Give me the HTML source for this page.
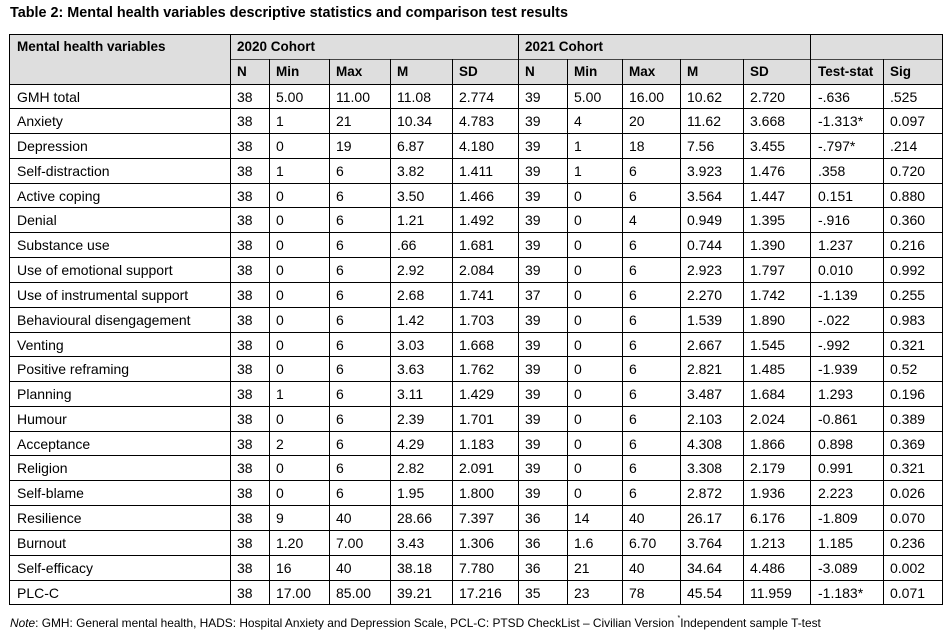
<!DOCTYPE html>
<html>
<head>
<meta charset="utf-8">
<style>
html,body{margin:0;padding:0;background:#fff;}
#w{position:relative;width:947px;height:641px;overflow:hidden;background:#fff;font-family:"Liberation Sans",Arial,sans-serif;color:#000;}
.title{position:absolute;left:10px;top:5px;font-size:14.4px;font-weight:bold;white-space:nowrap;line-height:normal;}
.note{position:absolute;left:10px;top:616px;font-size:11.9px;white-space:nowrap;line-height:normal;}
.note sup{font-size:7px;vertical-align:top;position:relative;top:-1px;}
.hbg{position:absolute;left:9px;top:34px;width:934px;height:50px;background:#dedede;}
.outer{position:absolute;left:9px;top:34px;width:934px;height:571px;border:1px solid #000;box-sizing:border-box;}
.vl{position:absolute;width:1px;background:#000;}
.hl{position:absolute;height:1px;background:#000;}
.r{position:absolute;left:9px;width:934px;display:flex;font-size:14px;white-space:nowrap;}
.r div{box-sizing:border-box;padding-left:7px;overflow:visible;}
.r div:first-child{padding-left:8px;}
.h{font-weight:bold;font-size:13.5px;}
.c0{width:221px}.c1{width:39px}.c2{width:60px}.c3{width:61px}.c4{width:62px}.c5{width:66px}
.c6{width:49px}.c7{width:55px}.c8{width:58px}.c9{width:63px}.c10{width:68px}.c11{width:72px}.c12{width:60px}
</style>
</head>
<body>
<div id="w">
<div class="title">Table 2: Mental health variables descriptive statistics and comparison test results</div>

<div class="hbg"></div>

<div class="hl" style="left:230px;top:59px;width:713px;background:#444;"></div>
<div class="hl" style="left:9px;top:84px;width:934px;"></div>
<div class="hl" style="left:9px;top:108px;width:934px;"></div>
<div class="hl" style="left:9px;top:133px;width:934px;"></div>
<div class="hl" style="left:9px;top:158px;width:934px;"></div>
<div class="hl" style="left:9px;top:183px;width:934px;"></div>
<div class="hl" style="left:9px;top:207px;width:934px;"></div>
<div class="hl" style="left:9px;top:232px;width:934px;"></div>
<div class="hl" style="left:9px;top:257px;width:934px;"></div>
<div class="hl" style="left:9px;top:282px;width:934px;"></div>
<div class="hl" style="left:9px;top:307px;width:934px;"></div>
<div class="hl" style="left:9px;top:332px;width:934px;"></div>
<div class="hl" style="left:9px;top:356px;width:934px;"></div>
<div class="hl" style="left:9px;top:381px;width:934px;"></div>
<div class="hl" style="left:9px;top:406px;width:934px;"></div>
<div class="hl" style="left:9px;top:431px;width:934px;"></div>
<div class="hl" style="left:9px;top:455px;width:934px;"></div>
<div class="hl" style="left:9px;top:480px;width:934px;"></div>
<div class="hl" style="left:9px;top:505px;width:934px;"></div>
<div class="hl" style="left:9px;top:530px;width:934px;"></div>
<div class="hl" style="left:9px;top:555px;width:934px;"></div>
<div class="hl" style="left:9px;top:580px;width:934px;"></div>

<div class="vl" style="left:230px;top:34px;height:570px;"></div>
<div class="vl" style="left:518px;top:34px;height:570px;"></div>
<div class="vl" style="left:810px;top:34px;height:570px;"></div>
<div class="vl" style="left:269px;top:59px;height:545px;"></div>
<div class="vl" style="left:329px;top:59px;height:545px;"></div>
<div class="vl" style="left:390px;top:59px;height:545px;"></div>
<div class="vl" style="left:452px;top:59px;height:545px;"></div>
<div class="vl" style="left:567px;top:59px;height:545px;"></div>
<div class="vl" style="left:622px;top:59px;height:545px;"></div>
<div class="vl" style="left:680px;top:59px;height:545px;"></div>
<div class="vl" style="left:743px;top:59px;height:545px;"></div>
<div class="vl" style="left:883px;top:59px;height:545px;"></div>

<div class="outer"></div>

<div class="r h" style="top:34px;height:25px;line-height:26px;">
<div style="width:221px">Mental health variables</div>
<div style="width:288px">2020 Cohort</div>
<div style="width:292px">2021 Cohort</div>
<div style="width:132px"></div>
</div>
<div class="r h" style="top:59px;height:25px;line-height:26px;">
<div class="c0"></div><div class="c1">N</div><div class="c2">Min</div><div class="c3">Max</div><div class="c4">M</div><div class="c5">SD</div>
<div class="c6">N</div><div class="c7">Min</div><div class="c8">Max</div><div class="c9">M</div><div class="c10">SD</div><div class="c11">Test-stat</div><div class="c12">Sig</div>
</div>

<div class="r" style="top:84px;height:25px;line-height:27px;"><div class="c0">GMH total</div><div class="c1">38</div><div class="c2">5.00</div><div class="c3">11.00</div><div class="c4">11.08</div><div class="c5">2.774</div><div class="c6">39</div><div class="c7">5.00</div><div class="c8">16.00</div><div class="c9">10.62</div><div class="c10">2.720</div><div class="c11">-.636</div><div class="c12">.525</div></div>
<div class="r" style="top:108px;height:25px;line-height:27px;"><div class="c0">Anxiety</div><div class="c1">38</div><div class="c2">1</div><div class="c3">21</div><div class="c4">10.34</div><div class="c5">4.783</div><div class="c6">39</div><div class="c7">4</div><div class="c8">20</div><div class="c9">11.62</div><div class="c10">3.668</div><div class="c11">-1.313*</div><div class="c12">0.097</div></div>
<div class="r" style="top:133px;height:25px;line-height:27px;"><div class="c0">Depression</div><div class="c1">38</div><div class="c2">0</div><div class="c3">19</div><div class="c4">6.87</div><div class="c5">4.180</div><div class="c6">39</div><div class="c7">1</div><div class="c8">18</div><div class="c9">7.56</div><div class="c10">3.455</div><div class="c11">-.797*</div><div class="c12">.214</div></div>
<div class="r" style="top:158px;height:25px;line-height:27px;"><div class="c0">Self-distraction</div><div class="c1">38</div><div class="c2">1</div><div class="c3">6</div><div class="c4">3.82</div><div class="c5">1.411</div><div class="c6">39</div><div class="c7">1</div><div class="c8">6</div><div class="c9">3.923</div><div class="c10">1.476</div><div class="c11">.358</div><div class="c12">0.720</div></div>
<div class="r" style="top:183px;height:25px;line-height:27px;"><div class="c0">Active coping</div><div class="c1">38</div><div class="c2">0</div><div class="c3">6</div><div class="c4">3.50</div><div class="c5">1.466</div><div class="c6">39</div><div class="c7">0</div><div class="c8">6</div><div class="c9">3.564</div><div class="c10">1.447</div><div class="c11">0.151</div><div class="c12">0.880</div></div>
<div class="r" style="top:207px;height:25px;line-height:27px;"><div class="c0">Denial</div><div class="c1">38</div><div class="c2">0</div><div class="c3">6</div><div class="c4">1.21</div><div class="c5">1.492</div><div class="c6">39</div><div class="c7">0</div><div class="c8">4</div><div class="c9">0.949</div><div class="c10">1.395</div><div class="c11">-.916</div><div class="c12">0.360</div></div>
<div class="r" style="top:232px;height:25px;line-height:27px;"><div class="c0">Substance use</div><div class="c1">38</div><div class="c2">0</div><div class="c3">6</div><div class="c4">.66</div><div class="c5">1.681</div><div class="c6">39</div><div class="c7">0</div><div class="c8">6</div><div class="c9">0.744</div><div class="c10">1.390</div><div class="c11">1.237</div><div class="c12">0.216</div></div>
<div class="r" style="top:257px;height:25px;line-height:27px;"><div class="c0">Use of emotional support</div><div class="c1">38</div><div class="c2">0</div><div class="c3">6</div><div class="c4">2.92</div><div class="c5">2.084</div><div class="c6">39</div><div class="c7">0</div><div class="c8">6</div><div class="c9">2.923</div><div class="c10">1.797</div><div class="c11">0.010</div><div class="c12">0.992</div></div>
<div class="r" style="top:282px;height:25px;line-height:27px;"><div class="c0">Use of instrumental support</div><div class="c1">38</div><div class="c2">0</div><div class="c3">6</div><div class="c4">2.68</div><div class="c5">1.741</div><div class="c6">37</div><div class="c7">0</div><div class="c8">6</div><div class="c9">2.270</div><div class="c10">1.742</div><div class="c11">-1.139</div><div class="c12">0.255</div></div>
<div class="r" style="top:307px;height:25px;line-height:27px;"><div class="c0">Behavioural disengagement</div><div class="c1">38</div><div class="c2">0</div><div class="c3">6</div><div class="c4">1.42</div><div class="c5">1.703</div><div class="c6">39</div><div class="c7">0</div><div class="c8">6</div><div class="c9">1.539</div><div class="c10">1.890</div><div class="c11">-.022</div><div class="c12">0.983</div></div>
<div class="r" style="top:332px;height:25px;line-height:27px;"><div class="c0">Venting</div><div class="c1">38</div><div class="c2">0</div><div class="c3">6</div><div class="c4">3.03</div><div class="c5">1.668</div><div class="c6">39</div><div class="c7">0</div><div class="c8">6</div><div class="c9">2.667</div><div class="c10">1.545</div><div class="c11">-.992</div><div class="c12">0.321</div></div>
<div class="r" style="top:356px;height:25px;line-height:27px;"><div class="c0">Positive reframing</div><div class="c1">38</div><div class="c2">0</div><div class="c3">6</div><div class="c4">3.63</div><div class="c5">1.762</div><div class="c6">39</div><div class="c7">0</div><div class="c8">6</div><div class="c9">2.821</div><div class="c10">1.485</div><div class="c11">-1.939</div><div class="c12">0.52</div></div>
<div class="r" style="top:381px;height:25px;line-height:27px;"><div class="c0">Planning</div><div class="c1">38</div><div class="c2">1</div><div class="c3">6</div><div class="c4">3.11</div><div class="c5">1.429</div><div class="c6">39</div><div class="c7">0</div><div class="c8">6</div><div class="c9">3.487</div><div class="c10">1.684</div><div class="c11">1.293</div><div class="c12">0.196</div></div>
<div class="r" style="top:406px;height:25px;line-height:27px;"><div class="c0">Humour</div><div class="c1">38</div><div class="c2">0</div><div class="c3">6</div><div class="c4">2.39</div><div class="c5">1.701</div><div class="c6">39</div><div class="c7">0</div><div class="c8">6</div><div class="c9">2.103</div><div class="c10">2.024</div><div class="c11">-0.861</div><div class="c12">0.389</div></div>
<div class="r" style="top:431px;height:25px;line-height:27px;"><div class="c0">Acceptance</div><div class="c1">38</div><div class="c2">2</div><div class="c3">6</div><div class="c4">4.29</div><div class="c5">1.183</div><div class="c6">39</div><div class="c7">0</div><div class="c8">6</div><div class="c9">4.308</div><div class="c10">1.866</div><div class="c11">0.898</div><div class="c12">0.369</div></div>
<div class="r" style="top:455px;height:25px;line-height:27px;"><div class="c0">Religion</div><div class="c1">38</div><div class="c2">0</div><div class="c3">6</div><div class="c4">2.82</div><div class="c5">2.091</div><div class="c6">39</div><div class="c7">0</div><div class="c8">6</div><div class="c9">3.308</div><div class="c10">2.179</div><div class="c11">0.991</div><div class="c12">0.321</div></div>
<div class="r" style="top:480px;height:25px;line-height:27px;"><div class="c0">Self-blame</div><div class="c1">38</div><div class="c2">0</div><div class="c3">6</div><div class="c4">1.95</div><div class="c5">1.800</div><div class="c6">39</div><div class="c7">0</div><div class="c8">6</div><div class="c9">2.872</div><div class="c10">1.936</div><div class="c11">2.223</div><div class="c12">0.026</div></div>
<div class="r" style="top:505px;height:25px;line-height:27px;"><div class="c0">Resilience</div><div class="c1">38</div><div class="c2">9</div><div class="c3">40</div><div class="c4">28.66</div><div class="c5">7.397</div><div class="c6">36</div><div class="c7">14</div><div class="c8">40</div><div class="c9">26.17</div><div class="c10">6.176</div><div class="c11">-1.809</div><div class="c12">0.070</div></div>
<div class="r" style="top:530px;height:25px;line-height:27px;"><div class="c0">Burnout</div><div class="c1">38</div><div class="c2">1.20</div><div class="c3">7.00</div><div class="c4">3.43</div><div class="c5">1.306</div><div class="c6">36</div><div class="c7">1.6</div><div class="c8">6.70</div><div class="c9">3.764</div><div class="c10">1.213</div><div class="c11">1.185</div><div class="c12">0.236</div></div>
<div class="r" style="top:555px;height:25px;line-height:27px;"><div class="c0">Self-efficacy</div><div class="c1">38</div><div class="c2">16</div><div class="c3">40</div><div class="c4">38.18</div><div class="c5">7.780</div><div class="c6">36</div><div class="c7">21</div><div class="c8">40</div><div class="c9">34.64</div><div class="c10">4.486</div><div class="c11">-3.089</div><div class="c12">0.002</div></div>
<div class="r" style="top:580px;height:24px;line-height:26px;"><div class="c0">PLC-C</div><div class="c1">38</div><div class="c2">17.00</div><div class="c3">85.00</div><div class="c4">39.21</div><div class="c5">17.216</div><div class="c6">35</div><div class="c7">23</div><div class="c8">78</div><div class="c9">45.54</div><div class="c10">11.959</div><div class="c11">-1.183*</div><div class="c12">0.071</div></div>

<div class="note"><i>Note</i>: GMH: General mental health, HADS: Hospital Anxiety and Depression Scale, PCL-C: PTSD CheckList – Civilian Version <sup>*</sup>Independent sample T-test</div>
</div>
</body>
</html>
